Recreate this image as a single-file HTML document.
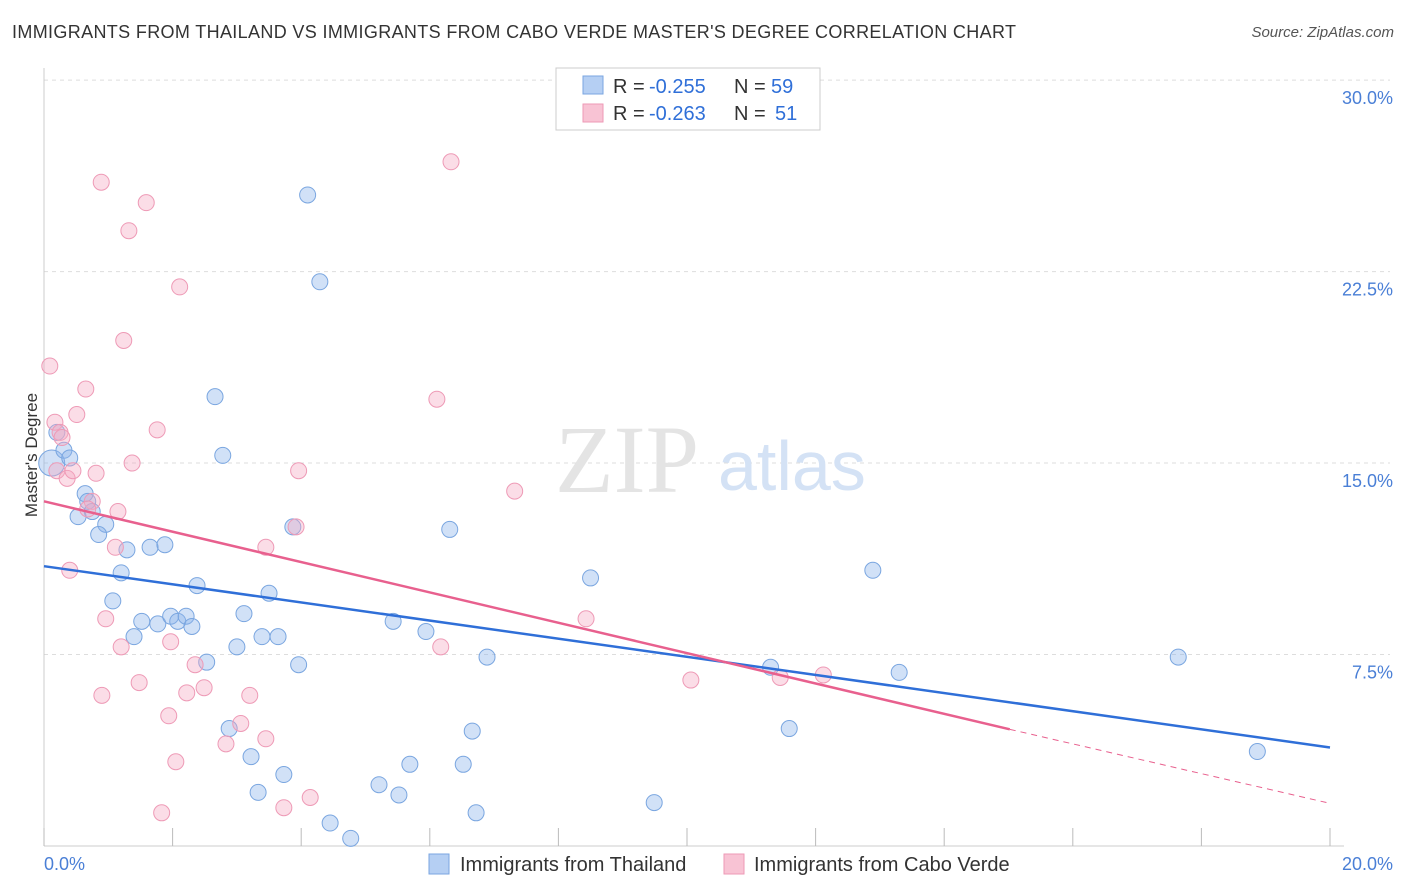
<!DOCTYPE html>
<html><head><meta charset="utf-8"><style>
body{margin:0;background:#fff;font-family:"Liberation Sans",sans-serif;}
#wrap{position:relative;width:1406px;height:892px;overflow:hidden;}
.t{position:absolute;white-space:nowrap;}
</style></head><body>
<div id="wrap">
<div class="t" style="left:12px;top:22px;font-size:18px;letter-spacing:0.35px;color:#333;">IMMIGRANTS FROM THAILAND VS IMMIGRANTS FROM CABO VERDE MASTER'S DEGREE CORRELATION CHART</div>
<div class="t" style="right:12px;top:24px;font-size:15px;color:#555;font-style:italic;">Source: ZipAtlas.com</div>
<div class="t" style="left:-30px;top:445px;font-size:17px;color:#333;transform:rotate(-90deg);">Master's Degree</div>
<svg id="svg" width="1406" height="892" style="position:absolute;left:0;top:0;"></svg>
</div>
<script>
const yTicks=[7.5,15,22.5,30];
const xTickLabels=["0.0%","20.0%"];
const thaiX=[0.12,0.2,0.31,0.4,0.64,0.68,0.75,0.53,0.96,0.85,1.29,1.2,1.65,1.88,1.07,1.4,1.52,1.77,1.97,2.08,2.21,2.3,2.38,2.66,2.78,2.53,3.0,3.11,2.88,3.22,3.33,3.39,3.5,3.64,3.73,3.87,3.96,4.1,4.29,4.45,4.77,5.21,5.52,5.43,5.69,5.94,6.31,6.52,6.66,6.72,6.89,8.5,9.49,11.3,11.59,12.89,13.3,17.64,18.87];
const thaiY=[15.0,16.2,15.5,15.2,13.8,13.5,13.1,12.9,12.6,12.2,11.6,10.7,11.7,11.8,9.6,8.2,8.8,8.7,9.0,8.8,9.0,8.6,10.2,17.6,15.3,7.2,7.8,9.1,4.6,3.5,2.1,8.2,9.9,8.2,2.8,12.5,7.1,25.5,22.1,0.9,0.3,2.4,2.0,8.8,3.2,8.4,12.4,3.2,4.5,1.3,7.4,10.5,1.7,7.0,4.6,10.8,6.8,7.4,3.7];
const caboX=[0.09,0.17,0.25,0.2,0.28,0.36,0.4,0.45,0.65,0.51,0.75,0.68,0.81,0.89,0.96,0.9,1.11,1.15,1.2,1.24,1.32,1.37,1.48,1.59,1.76,1.83,1.94,1.97,2.05,2.11,2.22,2.35,2.49,2.83,3.06,3.2,3.45,3.45,3.73,3.96,3.92,4.14,6.11,6.17,6.33,7.32,8.43,10.06,11.45,12.12];
const caboY=[18.8,16.6,16.2,14.7,16.0,14.4,10.8,14.7,17.9,16.9,13.5,13.2,14.6,26.0,8.9,5.9,11.7,13.1,7.8,19.8,24.1,15.0,6.4,25.2,16.3,1.3,5.1,8.0,3.3,21.9,6.0,7.1,6.2,4.0,4.8,5.9,4.2,11.7,1.5,14.7,12.5,1.9,17.5,7.8,26.8,13.9,8.9,6.5,6.6,6.7];
const thaiTrend=[0,10.96,20,3.86];
const caboTrend=[0,13.5,15.02,4.57,20,1.67];
const X0=44,X1=1330,YB=846,PY=25.53;
const xs=v=>X0+v/20*(X1-X0), ys=v=>YB-v*PY;
const svg=document.getElementById('svg');const NS='http://www.w3.org/2000/svg';
function mk(t,a,name){const e=document.createElementNS(NS,t);for(const k in a)e.setAttribute(k,a[k]);


svg.appendChild(e);return e;}
yTicks.forEach(v=>{mk('line',{x1:X0,x2:1390,y1:ys(v),y2:ys(v),stroke:'#ddd','stroke-dasharray':'4,4'},'gridline');
const t=mk('text',{x:1393,y:ys(v)+24,'text-anchor':'end','font-size':18,fill:'#4a7fd6'},'y-tick-label');t.textContent=v.toFixed(1)+'%';});
mk('line',{x1:X0,x2:X0,y1:68,y2:YB},'y-axis');
mk('line',{x1:X0,x2:X1+14,y1:YB,y2:YB},'x-axis');
for(let i=0;i<=10;i++){mk('line',{x1:xs(i*2),x2:xs(i*2),y1:828,y2:YB,stroke:'#bbb'},'x-tick');}
svg.querySelectorAll('line').forEach(l=>{if(!l.getAttribute('stroke'))l.setAttribute('stroke','#ccc');});
let t=mk('text',{x:44,y:870,'font-size':18,fill:'#4a7fd6'},'x-tick-label');t.textContent=xTickLabels[0];
t=mk('text',{x:1393,y:870,'text-anchor':'end','font-size':18,fill:'#4a7fd6'},'x-tick-label');t.textContent=xTickLabels[1];
t=mk('text',{x:555,y:492,'font-size':96,fill:'#e4e4e4','font-family':'Liberation Serif'},'watermark-zip');t.textContent='ZIP';
t=mk('text',{x:718,y:490,'font-size':70,fill:'#d4e2f5'},'watermark-atlas');t.textContent='atlas';
thaiX.forEach((x,i)=>{mk('circle',{cx:xs(x),cy:ys(thaiY[i]),r:i==0?13:8,fill:'rgba(140,180,235,0.4)',stroke:'#7aa6e0','stroke-width':1},'thailand-point');});
caboX.forEach((x,i)=>{mk('circle',{cx:xs(x),cy:ys(caboY[i]),r:8,fill:'rgba(245,170,195,0.4)',stroke:'#ee9ab6','stroke-width':1},'cabo-verde-point');});
mk('line',{x1:xs(thaiTrend[0]),y1:ys(thaiTrend[1]),x2:xs(thaiTrend[2]),y2:ys(thaiTrend[3]),stroke:'#2f6fd8','stroke-width':2.5},'thailand-trendline');
mk('line',{x1:xs(caboTrend[0]),y1:ys(caboTrend[1]),x2:xs(caboTrend[2]),y2:ys(caboTrend[3]),stroke:'#e8608e','stroke-width':2.5},'cabo-verde-trendline');
mk('line',{x1:xs(caboTrend[2]),y1:ys(caboTrend[3]),x2:xs(caboTrend[4]),y2:ys(caboTrend[5]),stroke:'#e8608e','stroke-width':1,'stroke-dasharray':'6,5'},'cabo-verde-trend-extension');
mk('rect',{x:556,y:68,width:264,height:62,fill:'#fff',stroke:'#ccc'},'legend-box');
mk('rect',{x:583,y:76,width:20,height:18,fill:'#b5cff3',stroke:'#7aa6e0'},'legend-swatch-thailand');
mk('rect',{x:583,y:104,width:20,height:18,fill:'#f8c3d4',stroke:'#ee9ab6'},'legend-swatch-cabo-verde');
function lt(x,y,s,c,n){const e=mk('text',{x:x,y:y,'font-size':20,fill:c},n);e.textContent=s;}
lt(613,93,'R = ','#333','legend-r-label');lt(649,93,'-0.255','#2f6fd8','legend-r-thailand');
lt(734,93,'N = ','#333','legend-n-label');lt(771,93,'59','#2f6fd8','legend-n-thailand');
lt(613,120,'R = ','#333','legend-r-label');lt(649,120,'-0.263','#2f6fd8','legend-r-cabo');
lt(734,120,'N = ','#333','legend-n-label');lt(775,120,'51','#2f6fd8','legend-n-cabo');
mk('rect',{x:429,y:854,width:20,height:20,fill:'#b5cff3',stroke:'#7aa6e0'},'bottom-legend-swatch-thailand');
lt(460,871,'Immigrants from Thailand','#333','bottom-legend-thailand');
mk('rect',{x:724,y:854,width:20,height:20,fill:'#f8c3d4',stroke:'#ee9ab6'},'bottom-legend-swatch-cabo');
lt(754,871,'Immigrants from Cabo Verde','#333','bottom-legend-cabo-verde');
</script>
</body></html>
